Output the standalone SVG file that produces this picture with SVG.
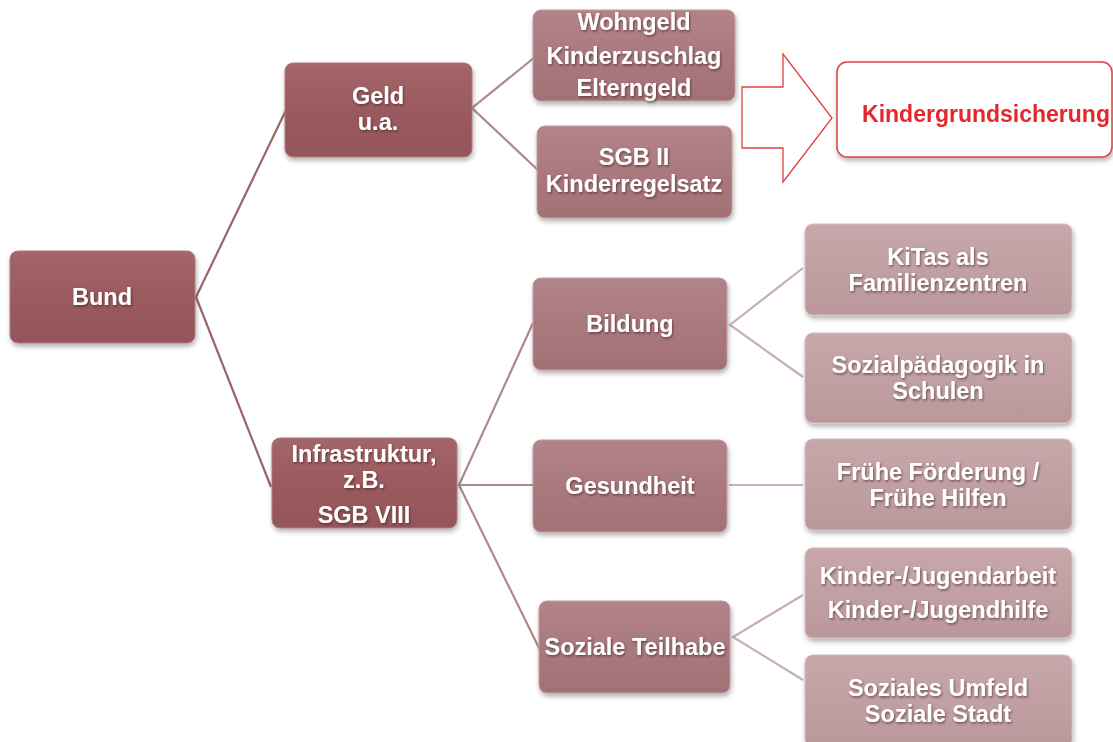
<svg xmlns="http://www.w3.org/2000/svg" width="1113" height="742" viewBox="0 0 1113 742">
<style>
text{font-family:"Liberation Sans",Arial,sans-serif;font-weight:bold;font-size:23.5px;fill:#ffffff;text-anchor:middle;dominant-baseline:central;filter:url(#ts)}
.l1{fill:url(#g1);stroke:#b07a7d;stroke-width:1}
.l2{fill:url(#g2);stroke:#c49a9e;stroke-width:1}
.l3{fill:url(#g3);stroke:#d6bcbf;stroke-width:1}
.c1{stroke:#9a6569;stroke-width:2.2;fill:none}
.c2{stroke:#ad8a8d;stroke-width:2.2;fill:none}
.c3{stroke:#c7afb2;stroke-width:2.2;fill:none}
.box{filter:url(#sh)}
</style>
<defs>
<linearGradient id="g1" x1="0" y1="0" x2="0" y2="1"><stop offset="0" stop-color="#a3666a"/><stop offset="0.5" stop-color="#9a5a5e"/><stop offset="1" stop-color="#93565a"/></linearGradient>
<linearGradient id="g2" x1="0" y1="0" x2="0" y2="1"><stop offset="0" stop-color="#b28489"/><stop offset="0.5" stop-color="#a9797e"/><stop offset="1" stop-color="#a27176"/></linearGradient>
<linearGradient id="g3" x1="0" y1="0" x2="0" y2="1"><stop offset="0" stop-color="#c8a7ab"/><stop offset="0.5" stop-color="#c1a0a4"/><stop offset="1" stop-color="#ba979b"/></linearGradient>
<filter id="sh" x="-10%" y="-10%" width="120%" height="130%"><feDropShadow dx="1" dy="3" stdDeviation="2.5" flood-color="#000" flood-opacity="0.3"/></filter>
<filter id="ts" x="-10%" y="-20%" width="120%" height="150%"><feDropShadow dx="1" dy="1.5" stdDeviation="1.2" flood-color="#3a1a1c" flood-opacity="0.6"/></filter>
<clipPath id="cw"><rect x="533" y="11" width="202" height="90"/></clipPath>
</defs>

<g id="connectors">
<polyline class="c1" points="287,108 196,297 271,487"/>
<polyline class="c2" points="535,57 472,108 540,172"/>
<polyline class="c2" points="533,323 459,485 540,650"/>
<line class="c2" x1="459" y1="485" x2="533" y2="485"/>
<polyline class="c3" points="803,268 730,325 803,377"/>
<line class="c3" x1="729" y1="485" x2="803" y2="485"/>
<polyline class="c3" points="803,595 733,637 803,680"/>
</g>

<g id="arrow">
<polygon points="742,87 783,87 783,54 832,118 783,182 783,148 742,148" fill="#ffffff" stroke="#e0403f" stroke-width="1.3"/>
</g>

<g id="bund" class="box">
<rect class="l1" x="10" y="251" width="185" height="92" rx="8"/>
<text x="102" y="297">Bund</text>
</g>

<g id="geld" class="box">
<rect class="l1" x="285" y="63" width="187" height="94" rx="8"/>
<text x="378" y="96">Geld</text>
<text x="378" y="122">u.a.</text>
</g>

<g id="infrastruktur" class="box">
<rect class="l1" x="272" y="438" width="185" height="90" rx="8"/>
<text x="364" y="454">Infrastruktur,</text>
<text x="364" y="480">z.B.</text>
<text x="364" y="515">SGB VIII</text>
</g>

<g id="wohngeld" class="box">
<rect class="l2" x="533" y="10" width="202" height="91" rx="8"/>
<g clip-path="url(#cw)"><text x="634" y="22">Wohngeld</text></g>
<text x="634" y="56">Kinderzuschlag</text>
<text x="634" y="88">Elterngeld</text>
</g>

<g id="sgb2" class="box">
<rect class="l2" x="537" y="126" width="195" height="92" rx="8"/>
<text x="634" y="157">SGB II</text>
<text x="634" y="184">Kinderregelsatz</text>
</g>

<g id="kindergrundsicherung" class="box">
<rect x="837" y="62" width="275" height="95" rx="10" fill="#ffffff" stroke="#e0403f" stroke-width="1.5"/>
<text x="986" y="114" style="fill:#e5262b;filter:none;font-size:23px">Kindergrundsicherung</text>
</g>

<g id="bildung" class="box">
<rect class="l2" x="533" y="278" width="194" height="92" rx="8"/>
<text x="630" y="324">Bildung</text>
</g>

<g id="gesundheit" class="box">
<rect class="l2" x="533" y="440" width="194" height="92" rx="8"/>
<text x="630" y="486">Gesundheit</text>
</g>

<g id="soziale-teilhabe" class="box">
<rect class="l2" x="539" y="601" width="191" height="92" rx="8"/>
<text x="635" y="647">Soziale Teilhabe</text>
</g>

<g id="kitas" class="box">
<rect class="l3" x="805" y="224" width="267" height="91" rx="8"/>
<text x="938" y="257">KiTas als</text>
<text x="938" y="283">Familienzentren</text>
</g>

<g id="sozialpaedagogik" class="box">
<rect class="l3" x="805" y="333" width="267" height="90" rx="8"/>
<text x="938" y="365">Sozialpädagogik in</text>
<text x="938" y="391">Schulen</text>
</g>

<g id="fruehe-foerderung" class="box">
<rect class="l3" x="805" y="439" width="267" height="91" rx="8"/>
<text x="938" y="472">Frühe Förderung /</text>
<text x="938" y="498">Frühe Hilfen</text>
</g>

<g id="jugendarbeit" class="box">
<rect class="l3" x="805" y="548" width="267" height="90" rx="8"/>
<text x="938" y="576">Kinder-/Jugendarbeit</text>
<text x="938" y="610">Kinder-/Jugendhilfe</text>
</g>

<g id="soziales-umfeld" class="box">
<rect class="l3" x="805" y="655" width="267" height="92" rx="8"/>
<text x="938" y="688">Soziales Umfeld</text>
<text x="938" y="714">Soziale Stadt</text>
</g>
</svg>
